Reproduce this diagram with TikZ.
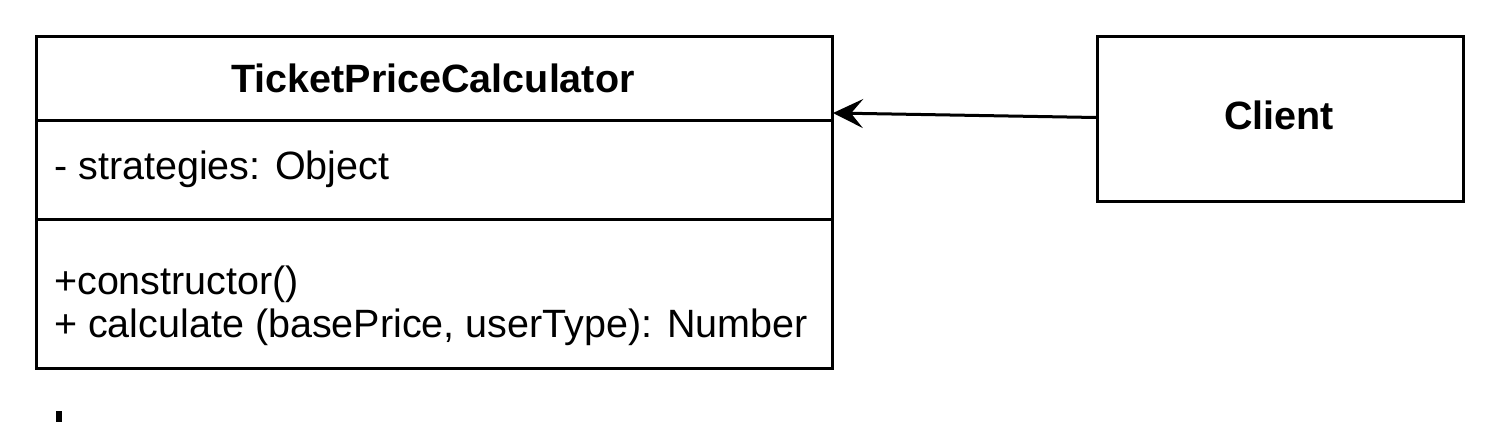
\documentclass[tikz,border=0pt]{standalone}
\usepackage{fontspec}
\setmainfont{Liberation Sans}
\usetikzlibrary{arrows.meta}
\tikzset{
  boxline/.style={draw=black, line width=3pt},
  txt/.style={inner sep=0pt, anchor=base west, font=\fontsize{39.5}{46}\selectfont},
  ttl/.style={inner sep=0pt, anchor=base, font=\fontsize{39.5}{46}\selectfont\bfseries},
  assoc/.style={draw=black, line width=3pt, -{Stealth[length=30pt, width=29pt, inset=12pt]}}
}
\begin{document}
\begin{tikzpicture}[x=1pt, y=-1pt]
\useasboundingbox (0,0) rectangle (1496,422);
% class box
\node[boxline, rectangle, minimum width=796pt, minimum height=332pt, inner sep=0pt, anchor=north west] (cls) at (35,35) {};
\coordinate (d1l) at (35,121); \coordinate (d1r) at (831,121);
\coordinate (d2l) at (35,220); \coordinate (d2r) at (831,220);
\draw[boxline] (d1l) -- (d1r);
\draw[boxline] (d2l) -- (d2r);
\node[ttl] (title) at (433,93) {TicketPriceCalculator};
\node[txt] (attr) at (54,180) {- strategies: Object};
\node[txt] (m1) at (54,294) {+constructor()};
\node[txt] (m2) at (54,337) {+ calculate (basePrice, userType): Number};
% client
\node[boxline, rectangle, minimum width=366pt, minimum height=165pt, inner sep=0pt, anchor=north west] (client) at (1096,35) {};
\node[ttl] (clientlbl) at (1279,130) {Client};
\coordinate (tgt) at (833,113);
\draw[assoc] ([yshift=1.5pt]client.west) -- (tgt);
% small mark at bottom
\fill[black] (56,411) rectangle (62,422);
\end{tikzpicture}
\end{document}
